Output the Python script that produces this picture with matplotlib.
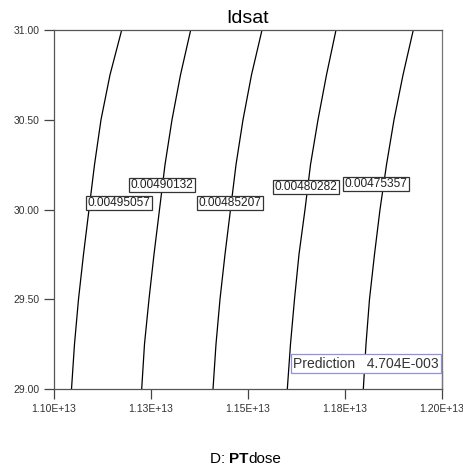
import matplotlib
matplotlib.use("Agg")
import matplotlib.pyplot as plt

plt.rcParams['font.family'] = ['Liberation Sans', 'DejaVu Sans']

# contour lines of Idsat: x position (PTdose) at each y level
y_levels = [29.0, 29.25, 29.5, 29.75, 30.0, 30.25, 30.5, 30.75, 31.0]
contour_x = [
    [1.10451e13, 1.10528e13, 1.10631e13, 1.10760e13, 1.10902e13,
     1.11044e13, 1.11211e13, 1.11443e13, 1.11745e13],
    [1.12260e13, 1.12332e13, 1.12448e13, 1.12577e13, 1.12719e13,
     1.12861e13, 1.13041e13, 1.13260e13, 1.13523e13],
    [1.14098e13, 1.14175e13, 1.14278e13, 1.14407e13, 1.14549e13,
     1.14691e13, 1.14871e13, 1.15090e13, 1.15361e13],
    [1.16013e13, 1.16095e13, 1.16198e13, 1.16314e13, 1.16469e13,
     1.16611e13, 1.16804e13, 1.17023e13, 1.17268e13],
    [1.17972e13, 1.18041e13, 1.18131e13, 1.18260e13, 1.18402e13,
     1.18570e13, 1.18763e13, 1.18995e13, 1.19260e13],
]

# contour labels and where they sit
label_text = ["0.00495057", "0.00490132", "0.00485207", "0.00480282", "0.00475357"]
label_x = [1.11675e13, 1.12784e13, 1.14536e13, 1.16495e13, 1.18299e13]
label_y = [30.036, 30.136, 30.036, 30.125, 30.142]

x_ticks = [1.10e13, 1.125e13, 1.15e13, 1.175e13, 1.20e13]
x_ticklabels = ["1.10E+13", "1.13E+13", "1.15E+13", "1.18E+13", "1.20E+13"]
y_ticks = [29.0, 29.5, 30.0, 30.5, 31.0]
y_ticklabels = ["29.00", "29.50", "30.00", "30.50", "31.00"]

prediction = "Prediction   4.704E-003"

fig = plt.figure(figsize=(4.64, 4.70), dpi=100)
ax = fig.add_axes([0.1164, 0.1723, 0.8362, 0.7639])

for xs in contour_x:
    ax.plot(xs, y_levels, color="black", linewidth=0.9)

for txt, lx, ly in zip(label_text, label_x, label_y):
    ax.text(lx, ly, txt, fontsize=8.6, ha="center", va="center", color="#222222",
            bbox=dict(boxstyle="square,pad=0.1", facecolor="white",
                      edgecolor="#333333", linewidth=0.9))

ax.text(0.992, 0.071, prediction, transform=ax.transAxes, fontsize=10,
        ha="right", va="center", color="#333333",
        bbox=dict(boxstyle="square,pad=0.15", facecolor="white",
                  edgecolor="#9090dd", linewidth=0.9))
# crosshair stub from the prediction box down to the axis
ax.plot([1, 1], [0, 0.05], transform=ax.transAxes, color="#9090dd",
        linewidth=1.0, clip_on=False)

ax.set_xlim(1.10e13, 1.20e13)
ax.set_ylim(29.0, 31.0)
ax.set_xticks(x_ticks, labels=x_ticklabels)
ax.set_yticks(y_ticks, labels=y_ticklabels)
ax.tick_params(direction="out", length=7.5, width=0.9, color="#444444",
               labelsize=7.5, labelcolor="#333333", pad=3)
for s in ax.spines.values():
    s.set_color("#555555")
    s.set_linewidth(0.9)
ax.spines["right"].set_color("#777777")

ax.set_title("Idsat", fontsize=14, pad=5)

# x axis label with bold "PT"
t1 = fig.text(0.452, 1 - 463 / 470, "D: ", fontsize=11, ha="left", va="baseline")
t2 = ax.annotate("PT", xy=(1, 0), xycoords=t1, fontsize=11, fontweight="bold",
                 ha="left", va="bottom")
ax.annotate("dose", xy=(1, 0), xycoords=t2, fontsize=11, ha="left", va="bottom")

fig.savefig("out.png", dpi=100, facecolor="white")
